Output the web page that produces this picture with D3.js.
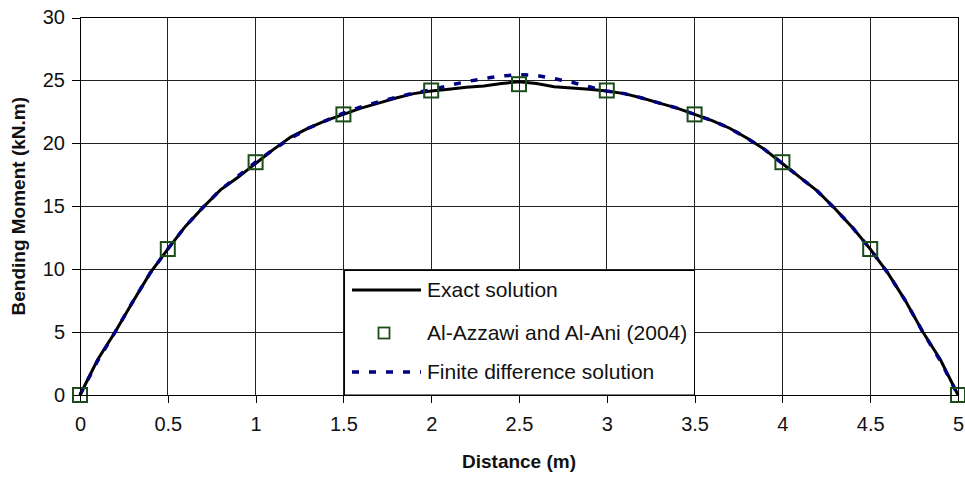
<!DOCTYPE html>
<html>
<head>
<meta charset="utf-8">
<script src="https://cdn.jsdelivr.net/npm/d3@7"></script>
<style>
    body { margin: 0; background: #fff; }
    svg { display: block; font-family: Arial, "Liberation Sans", sans-serif; }
</style>
</head>
<body>
<svg id="drawing_region"></svg>
<script>
// distance (m) of the solution curves
const distance = [0, 0.1, 0.2, 0.3, 0.4, 0.5, 0.6, 0.7, 0.8, 0.9,
    1.0, 1.1, 1.2, 1.3, 1.4, 1.5, 1.6, 1.7, 1.8, 1.9,
    2.0, 2.1, 2.2, 2.3, 2.4, 2.5, 2.6, 2.7, 2.8, 2.9,
    3.0, 3.1, 3.2, 3.3, 3.4, 3.5, 3.6, 3.7, 3.8, 3.9,
    4.0, 4.1, 4.2, 4.3, 4.4, 4.5, 4.6, 4.7, 4.8, 4.9, 5.0];

const exact = [0, 2.8, 5.0, 7.4, 9.7, 11.6, 13.4, 14.9, 16.3, 17.3,
    18.4, 19.5, 20.5, 21.2, 21.8, 22.3, 22.8, 23.2, 23.6, 23.95,
    24.15, 24.3, 24.45, 24.55, 24.75, 24.9, 24.75, 24.5, 24.4, 24.3,
    24.15, 23.95, 23.6, 23.2, 22.8, 22.3, 21.8, 21.2, 20.4, 19.5,
    18.4, 17.3, 16.2, 14.8, 13.3, 11.6, 9.7, 7.5, 5.0, 2.8, 0];

const finiteDiff = [0, 2.7, 5.0, 7.4, 9.7, 11.6, 13.4, 14.9, 16.3, 17.4,
    18.5, 19.5, 20.4, 21.2, 21.8, 22.4, 22.9, 23.3, 23.65, 24.0,
    24.25, 24.6, 24.9, 25.15, 25.35, 25.45, 25.4, 25.15, 24.85, 24.5,
    24.15, 23.95, 23.6, 23.2, 22.8, 22.3, 21.8, 21.2, 20.4, 19.5,
    18.4, 17.3, 16.2, 14.8, 13.3, 11.6, 9.7, 7.5, 5.0, 2.7, 0];

// Al-Azzawi and Al-Ani (2004)
const refDistance = [0, 0.5, 1, 1.5, 2, 2.5, 3, 3.5, 4, 4.5, 5];
const refMoment = [0, 11.6, 18.5, 22.3, 24.2, 24.7, 24.2, 22.3, 18.5, 11.6, 0];

const xTicks = [0, 0.5, 1, 1.5, 2, 2.5, 3, 3.5, 4, 4.5, 5];
const yTicks = [0, 5, 10, 15, 20, 25, 30];

const legendLabels = ['Exact solution', 'Al-Azzawi and Al-Ani (2004)', 'Finite difference solution'];

class MomentChart {

    constructor( config ) {
        this.config = {
            parent: config.parent,
            width: config.width || 256,
            height: config.height || 256,
            margin: config.margin || {top:10, right:10, bottom:20, left:60}
        }
        this.init();
    }

    init() {
        let self = this;

        self.svg = d3.select( self.config.parent )
            .attr('width', self.config.width)
            .attr('height', self.config.height);

        self.chart = self.svg.append('g')
            .attr('transform', `translate(${self.config.margin.left}, ${self.config.margin.top})`);

        self.inner_width = self.config.width - self.config.margin.left - self.config.margin.right;
        self.inner_height = self.config.height - self.config.margin.top - self.config.margin.bottom;

        self.xscale = d3.scaleLinear()
            .domain([0, 5])
            .range([0, self.inner_width]);

        self.yscale = d3.scaleLinear()
            .domain([0, 30])
            .range([self.inner_height, 0]);
    }

    render() {
        let self = this;

        // grid
        self.chart.append('g')
            .selectAll('line').data(yTicks).enter()
            .append('line')
            .attr('x1', 0).attr('x2', self.inner_width)
            .attr('y1', d => self.yscale(d)).attr('y2', d => self.yscale(d))
            .attr('stroke', '#222').attr('shape-rendering', 'crispEdges');

        self.chart.append('g')
            .selectAll('line').data(xTicks).enter()
            .append('line')
            .attr('y1', 0).attr('y2', self.inner_height)
            .attr('x1', d => self.xscale(d)).attr('x2', d => self.xscale(d))
            .attr('stroke', '#222').attr('shape-rendering', 'crispEdges');

        // axes
        const xaxis = d3.axisBottom(self.xscale).tickValues(xTicks)
            .tickFormat(d3.format('')).tickSizeInner(8).tickSizeOuter(0).tickPadding(14);
        const yaxis = d3.axisLeft(self.yscale).tickValues(yTicks)
            .tickSizeInner(8).tickSizeOuter(0).tickPadding(7);

        const gx = self.chart.append('g')
            .attr('transform', `translate(0, ${self.inner_height})`)
            .call(xaxis);
        const gy = self.chart.append('g').call(yaxis);

        [gx, gy].forEach(g => {
            g.selectAll('text').attr('font-size', '20px').attr('fill', '#111')
                .attr('font-family', 'Arial, "Liberation Sans", sans-serif');
            g.selectAll('line, path').attr('stroke', '#000').attr('shape-rendering', 'crispEdges');
        });

        // curves
        const exactData = distance.map((d, i) => ({x: d, y: exact[i]}));
        const fdData = distance.map((d, i) => ({x: d, y: finiteDiff[i]}));

        const line = d3.line()
            .x(d => self.xscale(d.x))
            .y(d => self.yscale(d.y));

        self.chart.append('path')
            .datum(exactData)
            .attr('d', line)
            .attr('fill', 'none')
            .attr('stroke', '#000')
            .attr('stroke-width', 3);

        self.chart.append('path')
            .datum(fdData)
            .attr('d', line)
            .attr('fill', 'none')
            .attr('stroke', '#000080')
            .attr('stroke-width', 3.5)
            .attr('stroke-dasharray', '7,10');

        const s = 14;
        self.chart.append('g')
            .selectAll('rect').data(refDistance).enter()
            .append('rect')
            .attr('x', d => self.xscale(d) - s/2)
            .attr('y', (d, i) => self.yscale(refMoment[i]) - s/2)
            .attr('width', s).attr('height', s)
            .attr('fill', 'none')
            .attr('stroke', '#1b4d1b')
            .attr('stroke-width', 2);

        // axis titles
        self.svg.append('text')
            .attr('x', self.config.margin.left + self.inner_width/2)
            .attr('y', 468)
            .attr('text-anchor', 'middle')
            .attr('font-size', '19px').attr('font-weight', 'bold').attr('fill', '#111')
            .text('Distance (m)');

        self.svg.append('text')
            .attr('transform', `translate(25, ${self.config.margin.top + self.inner_height/2}) rotate(-90)`)
            .attr('text-anchor', 'middle')
            .attr('font-size', '19px').attr('font-weight', 'bold').attr('fill', '#111')
            .text('Bending Moment (kN.m)');

        // legend
        const legend = self.svg.append('g');
        legend.append('rect')
            .attr('x', 344.5).attr('y', 270.5)
            .attr('width', 350).attr('height', 124.5)
            .attr('fill', '#fff').attr('stroke', '#000');

        const rowY = [290, 333, 372];
        legend.append('line')
            .attr('x1', 352).attr('x2', 421).attr('y1', rowY[0]).attr('y2', rowY[0])
            .attr('stroke', '#000').attr('stroke-width', 3);
        legend.append('rect')
            .attr('x', 384 - 5.5).attr('y', rowY[1] - 5.5)
            .attr('width', 11).attr('height', 11)
            .attr('fill', 'none').attr('stroke', '#1b4d1b').attr('stroke-width', 1.8);
        legend.append('line')
            .attr('x1', 352).attr('x2', 421).attr('y1', rowY[2]).attr('y2', rowY[2])
            .attr('stroke', '#000080').attr('stroke-width', 3.5)
            .attr('stroke-dasharray', '7,10');

        legend.selectAll('text.lbl').data(legendLabels).enter()
            .append('text')
            .attr('class', 'lbl')
            .attr('x', 427)
            .attr('y', (d, i) => rowY[i])
            .attr('dy', '0.35em')
            .attr('font-size', '21px').attr('fill', '#111')
            .text(d => d);

        // plot frame
        self.chart.append('rect')
            .attr('x', 0).attr('y', 0)
            .attr('width', self.inner_width).attr('height', self.inner_height)
            .attr('fill', 'none').attr('stroke', '#000')
            .attr('shape-rendering', 'crispEdges');
    }
}

var config = {
    parent: '#drawing_region',
    width: 965,
    height: 477,
    margin: { top:17.5, right:7, bottom:82, left:80 },
};

const chart = new MomentChart( config );
chart.render();
</script>
</body>
</html>
